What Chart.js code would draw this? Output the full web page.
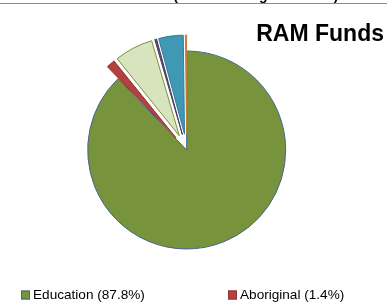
<!DOCTYPE html>
<html><head><meta charset="utf-8">
<script src="https://cdn.jsdelivr.net/npm/chart.js@4.4.0/dist/chart.umd.min.js"></script>
<style>html,body{margin:0;padding:0;background:#fff;overflow:hidden}#wrap{position:relative;width:387px;height:304px}canvas{display:block}</style>
</head><body><div id="wrap"><canvas id="c" width="387" height="304"></canvas></div>
<script>
// ---- data ----
const categories = ['Education', 'Aboriginal', 'Employment', 'Corporate', 'Regional', 'Other'];
const values = [87.8, 1.4, 6.3, 0.3, 4.0, 0.2];
const sliceColors = ['#77933C', '#B3423F', '#D7E4BD', '#5F4A7C', '#3F98B4', '#E39A55'];
const sliceBorders = ['#46658F', '#8E3432', '#77933C', '#4A3A63', '#2F7E97', '#C67C3A'];
const explodeBy = [0, 16, 16, 16, 16, 16];
const chartTitle = 'RAM Funds';
const headerText = 'RAM Allocation Model (Not including Reserves)';

const legendLabels = categories.map((c, i) => c + ' (' + values[i].toFixed(1) + '%)');

const explodePlugin = {
  id: 'explode',
  afterDatasetsUpdate(chart) {
    const meta = chart.getDatasetMeta(0);
    meta.data.forEach((arc, i) => {
      const d = explodeBy[i] || 0;
      if (!d) return;
      const mid = (arc.startAngle + arc.endAngle) / 2;
      arc.x += Math.cos(mid) * d;
      arc.y += Math.sin(mid) * d;
    });
  }
};

const decorPlugin = {
  id: 'decor',
  afterDraw(chart) {
    const ctx = chart.ctx;
    ctx.save();
    // cut-off header
    ctx.fillStyle = '#000';
    ctx.font = 'bold 14px "Liberation Sans", Arial, sans-serif';
    ctx.textAlign = 'center';
    ctx.textBaseline = 'alphabetic';
    ctx.fillText(headerText, 180, 0);
    ctx.strokeStyle = '#8C8C8C';
    ctx.lineWidth = 1;
    ctx.beginPath(); ctx.moveTo(0, 3.5); ctx.lineTo(387, 3.5); ctx.stroke();
    // title
    ctx.font = 'bold 23px "Liberation Sans", Arial, sans-serif';
    ctx.textAlign = 'right';
    ctx.fillText(chartTitle, 384, 41);
    // legend
    ctx.font = '13.6px "Liberation Sans", Arial, sans-serif';
    ctx.textAlign = 'left';
    ctx.textBaseline = 'middle';
    const cols = [21, 228];
    legendLabels.forEach((lab, i) => {
      const x = cols[i % 2];
      const y = 290.5 + Math.floor(i / 2) * 20;
      ctx.fillStyle = sliceColors[i];
      ctx.fillRect(x, y, 9, 9);
      ctx.strokeStyle = sliceBorders[i];
      ctx.strokeRect(x + 0.5, y + 0.5, 8, 8);
      ctx.fillStyle = '#000';
      ctx.fillText(lab, x + 12, y + 5);
    });
    ctx.restore();
  }
};

new Chart(document.getElementById('c'), {
  type: 'pie',
  data: {
    labels: legendLabels,
    datasets: [{
      data: values,
      backgroundColor: sliceColors,
      borderColor: sliceBorders,
      borderWidth: 1,
      radius: 99
    }]
  },
  options: {
    responsive: false,
    animation: false,
    devicePixelRatio: 1,
    layout: { padding: { left: 0, right: 13.6, top: 0, bottom: 4 } },
    plugins: { legend: { display: false }, tooltip: { enabled: false }, title: { display: false } }
  },
  plugins: [explodePlugin, decorPlugin]
});
</script></body></html>
